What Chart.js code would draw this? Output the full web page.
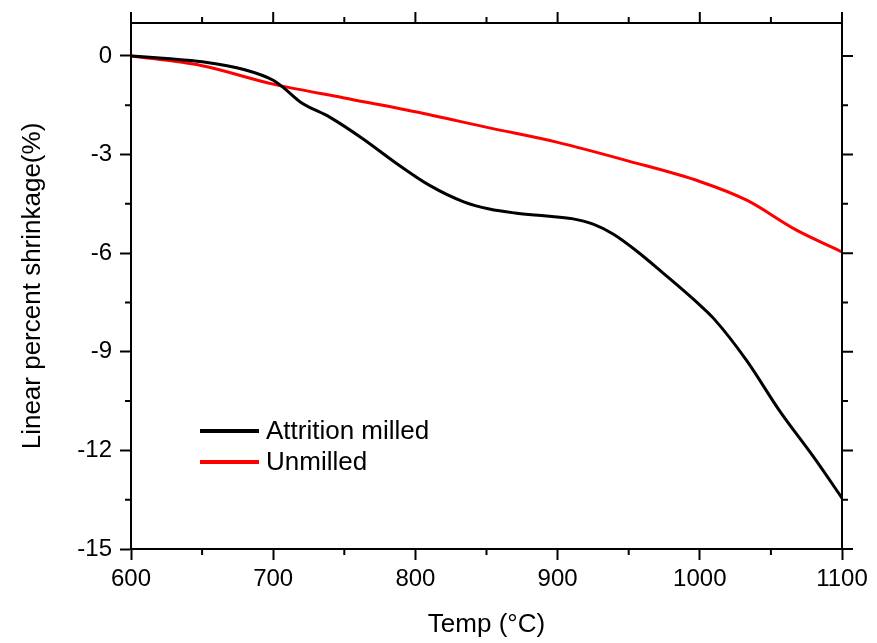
<!DOCTYPE html>
<html>
<head>
<meta charset="utf-8">
<script src="https://cdn.jsdelivr.net/npm/chart.js@4"></script>
<style>
  html, body { margin: 0; padding: 0; background: #fff; }
  #wrap { width: 877px; height: 643px; }
</style>
</head>
<body>
<div id="wrap"><canvas id="shrinkChart" width="877" height="643"></canvas></div>
<script>
// temperatures (°C) and linear shrinkage (%)
const tempMilled = [600, 625, 650, 680, 700, 707, 719, 740, 763, 787, 810, 834, 852, 870, 892, 910, 925, 939, 956, 974, 998, 1010, 1033, 1056, 1080, 1100];
const shrinkMilled = [0, -0.08, -0.18, -0.42, -0.74, -0.96, -1.4, -1.87, -2.52, -3.28, -3.94, -4.44, -4.66, -4.78, -4.87, -4.95, -5.12, -5.42, -5.95, -6.6, -7.5, -8.0, -9.27, -10.79, -12.2, -13.45];

const tempUnmilled = [600, 650, 700, 750, 800, 852, 900, 950, 1000, 1033, 1068, 1100];
const shrinkUnmilled = [0, -0.3, -0.86, -1.28, -1.7, -2.19, -2.63, -3.2, -3.82, -4.39, -5.3, -5.96];

const seriesNames = ["Attrition milled", "Unmilled"];
const seriesColors = ["#000000", "#ff0000"];

const xMin = 600, xMax = 1100, xMajor = 100, xMinor = 50;
const yMin = -15, yMax = 1, yMajor = 3, yMinor = 1.5;

const FONT = "'Liberation Sans', Arial, sans-serif";

function toPoints(xs, ys) {
    return xs.map((x, i) => ({ x: x, y: ys[i] }));
}

// minor ticks, top/right frame and the in-plot legend
const framePlugin = {
    id: "frame",
    afterDraw(chart) {
        const { ctx, chartArea: a, scales } = chart;
        const x = scales.x, y = scales.y;
        ctx.save();
        ctx.strokeStyle = "#000";
        ctx.lineWidth = 2;
        ctx.beginPath();
        ctx.moveTo(a.left, a.top);
        ctx.lineTo(a.right, a.top);
        ctx.lineTo(a.right, a.bottom);
        ctx.stroke();

        ctx.beginPath();
        for (let v = xMin; v <= xMax; v += xMinor) {
            const px = x.getPixelForValue(v);
            const major = v % xMajor === 0;
            const len = major ? 11 : 6;
            ctx.moveTo(px, a.top);
            ctx.lineTo(px, a.top - len);
            if (!major) {
                ctx.moveTo(px, a.bottom);
                ctx.lineTo(px, a.bottom + len);
            }
        }
        for (let v = yMin; v <= yMax; v += yMinor) {
            const py = y.getPixelForValue(v);
            const major = v % yMajor === 0;
            const len = major ? 11 : 6;
            ctx.moveTo(a.right, py);
            ctx.lineTo(a.right + len, py);
            if (!major) {
                ctx.moveTo(a.left, py);
                ctx.lineTo(a.left - len, py);
            }
        }
        ctx.stroke();

        // legend
        ctx.font = "26px " + FONT;
        ctx.textBaseline = "middle";
        ctx.fillStyle = "#000";
        chart.data.datasets.forEach((ds, i) => {
            const ly = a.top + 408 + i * 31;
            const lx = a.left + 69;
            ctx.strokeStyle = ds.borderColor;
            ctx.lineWidth = 4;
            ctx.beginPath();
            ctx.moveTo(lx, ly);
            ctx.lineTo(lx + 59, ly);
            ctx.stroke();
            ctx.fillText(ds.label, lx + 66, ly + 1);
        });
        ctx.restore();
    }
};

new Chart(document.getElementById("shrinkChart").getContext("2d"), {
    type: "line",
    data: {
        datasets: [
            {
                label: seriesNames[0],
                data: toPoints(tempMilled, shrinkMilled),
                borderColor: seriesColors[0],
                borderWidth: 3,
                pointRadius: 0,
                cubicInterpolationMode: "monotone",
            },
            {
                label: seriesNames[1],
                data: toPoints(tempUnmilled, shrinkUnmilled),
                borderColor: seriesColors[1],
                borderWidth: 3,
                pointRadius: 0,
                cubicInterpolationMode: "monotone",
            },
        ],
    },
    options: {
        responsive: false,
        animation: false,
        layout: { padding: { top: 23, right: 35, left: 0, bottom: 0 } },
        plugins: {
            legend: { display: false },
            tooltip: { enabled: false },
        },
        scales: {
            x: {
                type: "linear",
                min: xMin,
                max: xMax,
                afterFit(scale) { scale.height = 94; },
                ticks: {
                    stepSize: xMajor,
                    color: "#000",
                    padding: 5,
                    font: { family: FONT, size: 24 },
                    maxRotation: 0,
                    callback: v => String(v),
                },
                grid: {
                    drawOnChartArea: false,
                    drawTicks: true,
                    tickLength: 11,
                    tickWidth: 2,
                    tickColor: "#000",
                },
                border: { display: true, color: "#000", width: 2 },
                title: {
                    display: true,
                    text: "Temp (°C)",
                    color: "#000",
                    font: { family: FONT, size: 26 },
                    padding: { top: 0, bottom: 3 },
                },
            },
            y: {
                type: "linear",
                min: yMin,
                max: yMax,
                afterFit(scale) { scale.width = 131; },
                afterBuildTicks(scale) {
                    scale.ticks = scale.ticks.filter(t => t.value % yMajor === 0);
                },
                ticks: {
                    stepSize: yMajor,
                    color: "#000",
                    padding: 8,
                    font: { family: FONT, size: 24 },
                    callback: v => String(v),
                },
                grid: {
                    drawOnChartArea: false,
                    drawTicks: true,
                    tickLength: 11,
                    tickWidth: 2,
                    tickColor: "#000",
                },
                border: { display: true, color: "#000", width: 2 },
                title: {
                    display: true,
                    text: "Linear percent shrinkage(%)",
                    color: "#000",
                    font: { family: FONT, size: 26 },
                    padding: { top: 17, bottom: 0 },
                },
            },
        },
    },
    plugins: [framePlugin],
});
</script>
</body>
</html>
